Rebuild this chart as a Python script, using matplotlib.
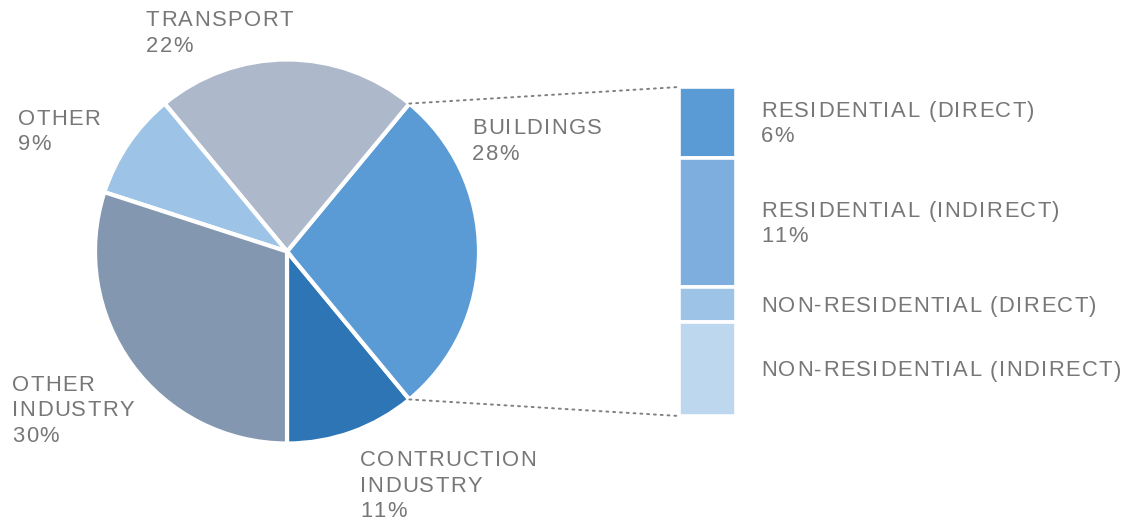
import numpy as np
import matplotlib.pyplot as plt
from matplotlib.patches import ConnectionPatch
from matplotlib.font_manager import FontProperties, findfont
from matplotlib.ft2font import FT2Font

# pie data (counter-clockwise from 6 o'clock)
sectors = ["CONTRUCTION\nINDUSTRY", "BUILDINGS", "TRANSPORT", "OTHER", "OTHER\nINDUSTRY"]
shares = [11, 28, 22, 9, 30]
pie_colors = ["#2E75B6", "#5B9BD5", "#ADB9CA", "#9DC3E6", "#8497B0"]

# breakdown of buildings
parts = ["RESIDENTIAL (DIRECT)", "RESIDENTIAL (INDIRECT)",
         "NON-RESIDENTIAL (DIRECT)", "NON-RESIDENTIAL (INDIRECT)"]
part_vals = [6, 11, 3, 8]
part_show = [True, True, False, False]
bar_colors = ["#5B9BD5", "#7DAEDE", "#9DC3E6", "#BDD7EE"]

W, H, DPI = 1129, 521, 100
TXT = "#777777"
FS = 15.8
fp = FontProperties(family="Liberation Sans", size=FS)
ft = FT2Font(findfont(fp))
ft.set_size(FS, DPI)

fig = plt.figure(figsize=(W / DPI, H / DPI), dpi=DPI)

# pie axes, centre (287, 251.5) px, radius 192 px
cx, cy, r = 287, 251.5, 192
ax_pie = fig.add_axes([(cx - r) / W, (H - cy - r) / H, 2 * r / W, 2 * r / H])
wedges, _ = ax_pie.pie(shares, colors=pie_colors, startangle=-90, counterclock=True,
                       wedgeprops=dict(edgecolor="white", linewidth=3))
ax_pie.set_xlim(-1, 1)
ax_pie.set_ylim(-1, 1)
ax_pie.set_aspect("equal")
ax_pie.axis("off")

# stacked bar axes
bx0, bx1, by0, by1 = 679, 736, 87, 416
ax_bar = fig.add_axes([bx0 / W, (H - by1) / H, (bx1 - bx0) / W, (by1 - by0) / H])
bottom = 0
mids = []
for v, c in zip(part_vals, bar_colors):
    ax_bar.bar(0, v, bottom=bottom, width=1, color=c, edgecolor="white", linewidth=2.6)
    mids.append(bottom + v / 2)
    bottom += v
ax_bar.set_xlim(-0.5, 0.5)
ax_bar.set_ylim(sum(part_vals), 0)
ax_bar.axis("off")

# canvas axes in pixel coordinates for text
ax_c = fig.add_axes([0, 0, 1, 1])
ax_c.set_xlim(0, W)
ax_c.set_ylim(H, 0)
ax_c.axis("off")


def spaced(x, y, s, track=1.4):
    for ch in s:
        ax_c.text(x, y, ch, fontproperties=fp, color=TXT, va="baseline", ha="left")
        g = ft.load_char(ord(ch))
        x += g.linearHoriAdvance / 65536 + track


def label(x, y, lines, lh=25.5):
    for i, ln in enumerate(lines):
        spaced(x, y + i * lh, ln)


# pie labels (x, first baseline in px)
pie_pos = [(360, 466), (472, 134), (146, 26), (18, 125), (12, 391)]
for name, v, (x, y) in zip(sectors, shares, pie_pos):
    label(x, y, name.split("\n") + [f"{v}%"])

# bar labels centred on segments
to_px = lambda d: ax_c.transData.inverted().transform(ax_bar.transData.transform((0, d)))[1]
for name, v, show, m in zip(parts, part_vals, part_show, mids):
    lines = [name] + ([f"{v}%"] if show else [])
    ym = to_px(m)
    n = len(lines)
    y0 = ym + 7.5 - (n - 1) * 25.5 / 2
    label(761, y0, lines)

# dotted connectors from buildings wedge to bar
w = wedges[1]
for ang, yb in [(w.theta2, 0), (w.theta1, sum(part_vals))]:
    pa = (np.cos(np.radians(ang)), np.sin(np.radians(ang)))
    con = ConnectionPatch(xyA=pa, coordsA=ax_pie.transData, xyB=(-0.5, yb),
                          coordsB=ax_bar.transData, color="#808080",
                          linestyle=(0, (1, 2.5)), linewidth=1.4)
    fig.add_artist(con)

fig.savefig("out.png", dpi=DPI, facecolor="white")
